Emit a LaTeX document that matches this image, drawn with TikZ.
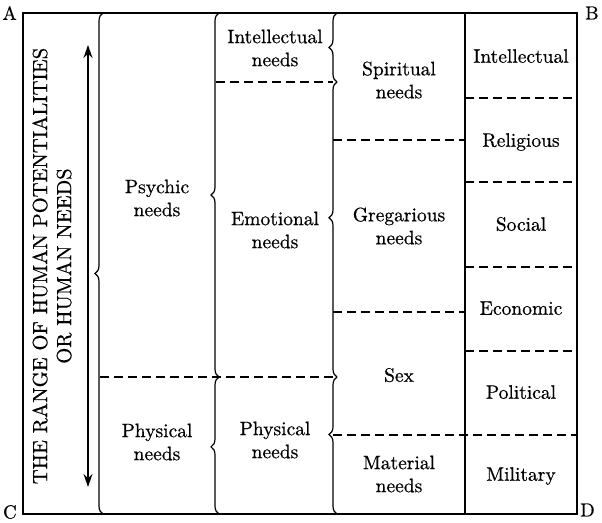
\documentclass[tikz,border=0pt]{standalone}
\usepackage{fontspec}
\newfontfamily\lmten{lmroman10-regular.otf}[FakeBold=0.6]
\usepackage{tikz}
\usetikzlibrary{arrows.meta,positioning,decorations.pathreplacing}

\begin{document}
\begin{tikzpicture}[x=1pt,y=-1pt,
lbl/.style={align=center,inner sep=0pt,font=\lmten\fontsize{19.5}{23}\selectfont},
cell/.style={lbl,text height=13.5pt,text depth=0pt},
corner/.style={inner sep=0pt,font=\lmten\fontsize{19}{22}\selectfont},
frame/.style={line width=1.2pt},
brc/.style={decorate,decoration={brace,amplitude=8pt,aspect=#1},line width=1.2pt},
brc/.default=0.5,
dsh/.style={dash pattern=on 9pt off 5pt,line width=1.7pt}]
\useasboundingbox (0,0) rectangle (602,522);
\coordinate (A) at (23,13); \coordinate (B) at (577,13);
\coordinate (C) at (23,514); \coordinate (D) at (577,514);
\draw[frame] (A) rectangle (D);
\draw[frame] (465,13) -- (465,514);
\node[corner,left=6pt of A] (la) {A};
\node[corner,right=8pt of B] (lb) {B};
\node[corner,left=6pt of C,yshift=2pt] (lc) {C};
\node[corner,right=3pt of D,yshift=4pt] (ld) {D};
\draw[brc=0.48] (103,514) -- (103,13);
\draw[brc] (219,377) -- (219,13); \draw[brc=0.49] (219,514) -- (219,377);
\draw[brc] (337,82) -- (337,13); \draw[brc=0.54] (337,377) -- (337,82);
\draw[brc=0.58] (337,514) -- (337,377);
\draw[dsh] (100,377) -- (333,377); \draw[dsh] (216,82) -- (333,82);
\draw[dsh] (333,140) -- (465,140); \draw[dsh] (333,312) -- (465,312);
\draw[dsh] (333,435) -- (577,435);
\foreach \y in {98,182,267,351} \draw[dsh] (465,\y) -- (577,\y);
\coordinate (up) at (88,45); \coordinate (dn) at (88,487);
\draw[{Stealth[length=13pt,width=9pt]}-{Stealth[length=13pt,width=9pt]},line width=1.3pt] (dn) -- (up);
\node[rotate=90,align=center,inner sep=0pt,font=\lmten\fontsize{20.5}{24}\selectfont] (range) at (52,266) {THE RANGE OF HUMAN POTENTIALITIES\\OR HUMAN NEEDS};
\node[lbl] (psy) at (157,198) {Psychic\\needs};
\node[lbl] (phy1) at (157,442) {Physical\\needs};
\node[lbl] (int1) at (275,48) {Intellectual\\needs};
\node[lbl] (emo) at (275,230) {Emotional\\needs};
\node[lbl] (phy2) at (275,440) {Physical\\needs};
\node[lbl] (spi) at (399,80) {Spiritual\\needs};
\node[lbl] (gre) at (399,226) {Gregarious\\needs};
\node[cell] (sex) at (399,375) {Sex};
\node[lbl] (mat) at (399,474) {Material\\needs};
\node[cell] (int2) at (521,56) {Intellectual};
\node[cell] (rel) at (521,140) {Religious};
\node[cell] (soc) at (521,224) {Social};
\node[cell] (eco) at (521,308) {Economic};
\node[cell] (pol) at (521,392) {Political};
\node[cell] (mil) at (521,474) {Military};
\end{tikzpicture}
\end{document}
